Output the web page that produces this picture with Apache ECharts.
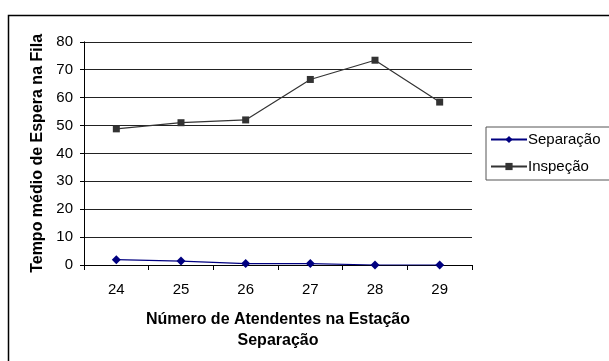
<!DOCTYPE html>
<html>
<head>
<meta charset="utf-8">
<script src="https://cdn.jsdelivr.net/npm/echarts@6/dist/echarts.min.js"></script>
<style>
  html, body { margin: 0; padding: 0; background: #fff; }
  #chart { width: 609px; height: 361px; }
</style>
</head>
<body>
<div id="chart"></div>
<script>
// Atendentes na estação de separação
const categories = ['24', '25', '26', '27', '28', '29'];
// Tempo médio de espera na fila por estação
const separacao = [1.9, 1.4, 0.5, 0.5, 0.0, 0.0];
const inspecao = [48.8, 51.0, 52.0, 66.5, 73.4, 58.4];
const yTicks = { min: 0, max: 80, interval: 10 };

const FONT = "'Liberation Sans', Arial, sans-serif";

const chart = echarts.init(document.getElementById('chart'), null, { renderer: 'canvas' });

chart.setOption({
  backgroundColor: '#ffffff',
  animation: false,
  graphic: [{
    type: 'rect',
    shape: { x: 8.5, y: 15.5, width: 700, height: 400 },
    style: { fill: 'none', stroke: '#000', lineWidth: 1.5 },
    z: 0
  }],
  grid: { left: 84, right: 137, top: 41.8, bottom: 96, containLabel: false },
  legend: {
    orient: 'vertical',
    left: 486,
    top: 127,
    itemWidth: 36,
    itemHeight: 9,
    itemGap: 12,
    padding: [5, 12, 6, 4],
    borderColor: '#555',
    borderWidth: 1,
    textStyle: { fontFamily: FONT, fontSize: 15, color: '#000', padding: [0, 0, 0, -4] },
    data: ['Separação', 'Inspeção']
  },
  xAxis: {
    type: 'category',
    data: categories,
    boundaryGap: true,
    name: 'Número de Atendentes na Estação\nSeparação',
    nameLocation: 'middle',
    nameGap: 44,
    nameTextStyle: { fontFamily: FONT, fontSize: 16, fontWeight: 'bold', color: '#000', lineHeight: 21 },
    axisLine: { show: true, lineStyle: { color: '#000', width: 1 } },
    axisTick: { show: true, alignWithLabel: false, length: 5, inside: false, lineStyle: { color: '#000' } },
    axisLabel: { fontFamily: FONT, fontSize: 15, color: '#000', margin: 17 },
    splitLine: { show: false }
  },
  yAxis: {
    type: 'value',
    min: yTicks.min,
    max: yTicks.max,
    interval: yTicks.interval,
    name: 'Tempo médio de Espera na Fila',
    nameLocation: 'middle',
    nameGap: 37,
    nameTextStyle: { fontFamily: FONT, fontSize: 16, fontWeight: 'bold', color: '#000' },
    axisLine: { show: true, lineStyle: { color: '#000', width: 1 } },
    axisTick: { show: true, length: 4, inside: false, lineStyle: { color: '#000' } },
    axisLabel: { fontFamily: FONT, fontSize: 15, color: '#000', margin: 11 },
    splitLine: { show: true, lineStyle: { color: '#222', width: 1 } }
  },
  series: [
    {
      name: 'Separação',
      type: 'line',
      data: separacao,
      symbol: 'diamond',
      symbolSize: 9,
      itemStyle: { color: '#000080' },
      lineStyle: { color: '#000080', width: 1.2 },
      z: 3
    },
    {
      name: 'Inspeção',
      type: 'line',
      data: inspecao,
      symbol: 'rect',
      symbolSize: 7,
      itemStyle: { color: '#333333' },
      lineStyle: { color: '#333333', width: 1.2 },
      z: 3
    }
  ]
});
</script>
</body>
</html>
